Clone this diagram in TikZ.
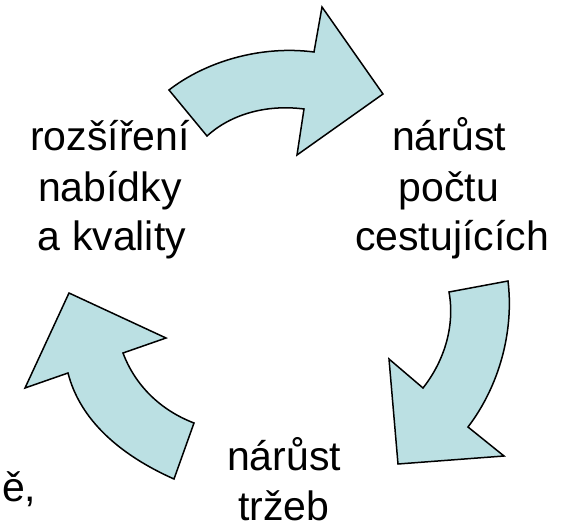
\documentclass[tikz,border=0pt]{standalone}
\usepackage{fontspec}
\setmainfont{Liberation Sans}
\definecolor{arrowfill}{RGB}{187,224,227}

\begin{document}
\begin{tikzpicture}[x=1pt,y=-1pt,
	bentarrow/.style={draw=black,fill=arrowfill,line width=1.5pt,line join=miter},
	lbl/.style={font=\fontsize{41}{50}\selectfont,anchor=base,inner sep=0pt}]
	\useasboundingbox (0,0) rectangle (568,524);
	% arrow top
	\draw[bentarrow] (169,90) .. controls (205,62) and (260,45) .. (314,52)
		-- (322,7) -- (383,94) -- (297,155) -- (304,109)
		.. controls (265,104) and (230,115) .. (207,136) -- cycle;
	% arrow right
	\draw[bentarrow] (449,292) -- (508,281) .. controls (514,330) and (500,385) .. (468,427)
		-- (504,456) -- (398,464) -- (389,359) -- (423,388)
		.. controls (445,360) and (455,325) .. (449,292) -- cycle;
	% arrow left
	\draw[bentarrow] (174,479) .. controls (120,455) and (80,420) .. (68,373)
		-- (25,388) -- (69,293) -- (166,338) -- (123,353)
		.. controls (135,385) and (160,410) .. (194,423) -- cycle;
	% texts
	\node[lbl] (nab1) at (110,151) {rozšíření};
	\node[lbl] (nab2) at (110,201) {nabídky};
	\node[lbl] (nab3) at (112,251) {a kvality};
	\node[lbl] (ces1) at (449,151) {nárůst};
	\node[lbl] (ces2) at (449,201) {počtu};
	\node[lbl] (ces3) at (452,251) {cestujících};
	\node[lbl] (trz1) at (284,470) {nárůst};
	\node[lbl] (trz2) at (284,520) {tržeb};
	\node[lbl,anchor=base west] (cut) at (2,501) {ě,};
\end{tikzpicture}
\end{document}
